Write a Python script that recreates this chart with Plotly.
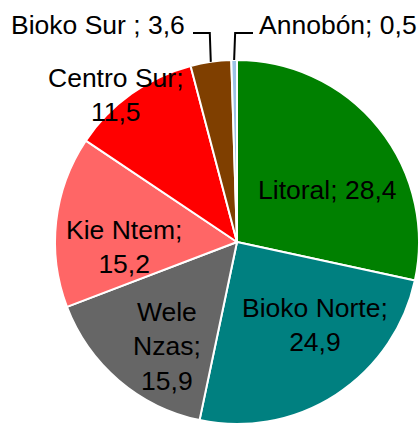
import math
import plotly.graph_objects as go

# ---- data ----
categories = ["Litoral", "Bioko Norte", "Wele Nzas", "Kie Ntem", "Centro Sur", "Bioko Sur", "Annobón"]
values = [28.4, 24.9, 15.9, 15.2, 11.5, 3.6, 0.5]

# ---- style ----
colors = ["#008000", "#008080", "#666666", "#FF6666", "#FF0000", "#7F3F00", "#9DC3E6"]
W, H = 419, 427
FONT = "Liberation Sans, Arial, sans-serif"
FS = 26.5
# pie geometry in pixels
cx, cy, R = 237, 242, 182

# label layout: (label text template, x px, y px, xanchor)
label_layout = [
    ("{c}; {v}", 327, 190, "center"),
    ("Bioko Norte;<br>{v}", 315, 325, "center"),
    ("Wele<br>Nzas;<br>{v}", 167, 346, "center"),
    ("Kie Ntem;<br>{v}", 124, 247, "center"),
    ("Centro Sur;<br>{v}", 116, 95, "center"),
    ("{c} ; {v}", 187, 25, "right"),
    ("{c}; {v}", 257, 25, "left"),
]

def px(x):
    return x / W

def py(y):
    return 1 - y / H

fig = go.Figure(go.Pie(
    labels=categories,
    values=values,
    sort=False,
    direction="clockwise",
    rotation=0,
    marker=dict(colors=colors, line=dict(color="white", width=2)),
    textinfo="none",
    hoverinfo="none",
    showlegend=False,
    domain=dict(x=[px(cx - R), px(cx + R)], y=[py(cy + R), py(cy - R)]),
))

annotations = []
for c, v, (tmpl, x, y, xa) in zip(categories, values, label_layout):
    txt = tmpl.format(c=c, v=f"{v:.1f}".replace(".", ","))
    annotations.append(dict(
        x=px(x), y=py(y), xref="paper", yref="paper", text=txt, showarrow=False,
        xanchor=xa, yanchor="middle", align="center",
        font=dict(family=FONT, size=FS, color="black"),
    ))

# leader lines for the two small slices, anchored at slice mid-angle on the rim
total = sum(values)
cum = 0
mids = []
for v in values:
    mids.append((cum + v / 2) / total * 2 * math.pi)
    cum += v

shapes = []
elbow_y = 33
for idx, hx in [(5, 193), (6, 253)]:
    a = mids[idx]
    ex = cx + R * math.sin(a)
    ey = cy - R * math.cos(a)
    kx = ex - 1 if idx == 5 else ex + 1
    path = f"M {px(ex)},{py(ey)} L {px(kx)},{py(elbow_y)} L {px(hx)},{py(elbow_y)}"
    shapes.append(dict(type="path", path=path, xref="paper", yref="paper",
                       line=dict(color="black", width=2)))

fig.update_layout(
    width=W, height=H,
    margin=dict(l=0, r=0, t=0, b=0),
    paper_bgcolor="white", plot_bgcolor="white",
    annotations=annotations,
    shapes=shapes,
    font=dict(family=FONT),
)

fig.write_html(
    "out.html",
    config={"displayModeBar": False, "staticPlot": True},
    post_script="document.body.style.margin='0';document.body.style.overflow='hidden';",
)
